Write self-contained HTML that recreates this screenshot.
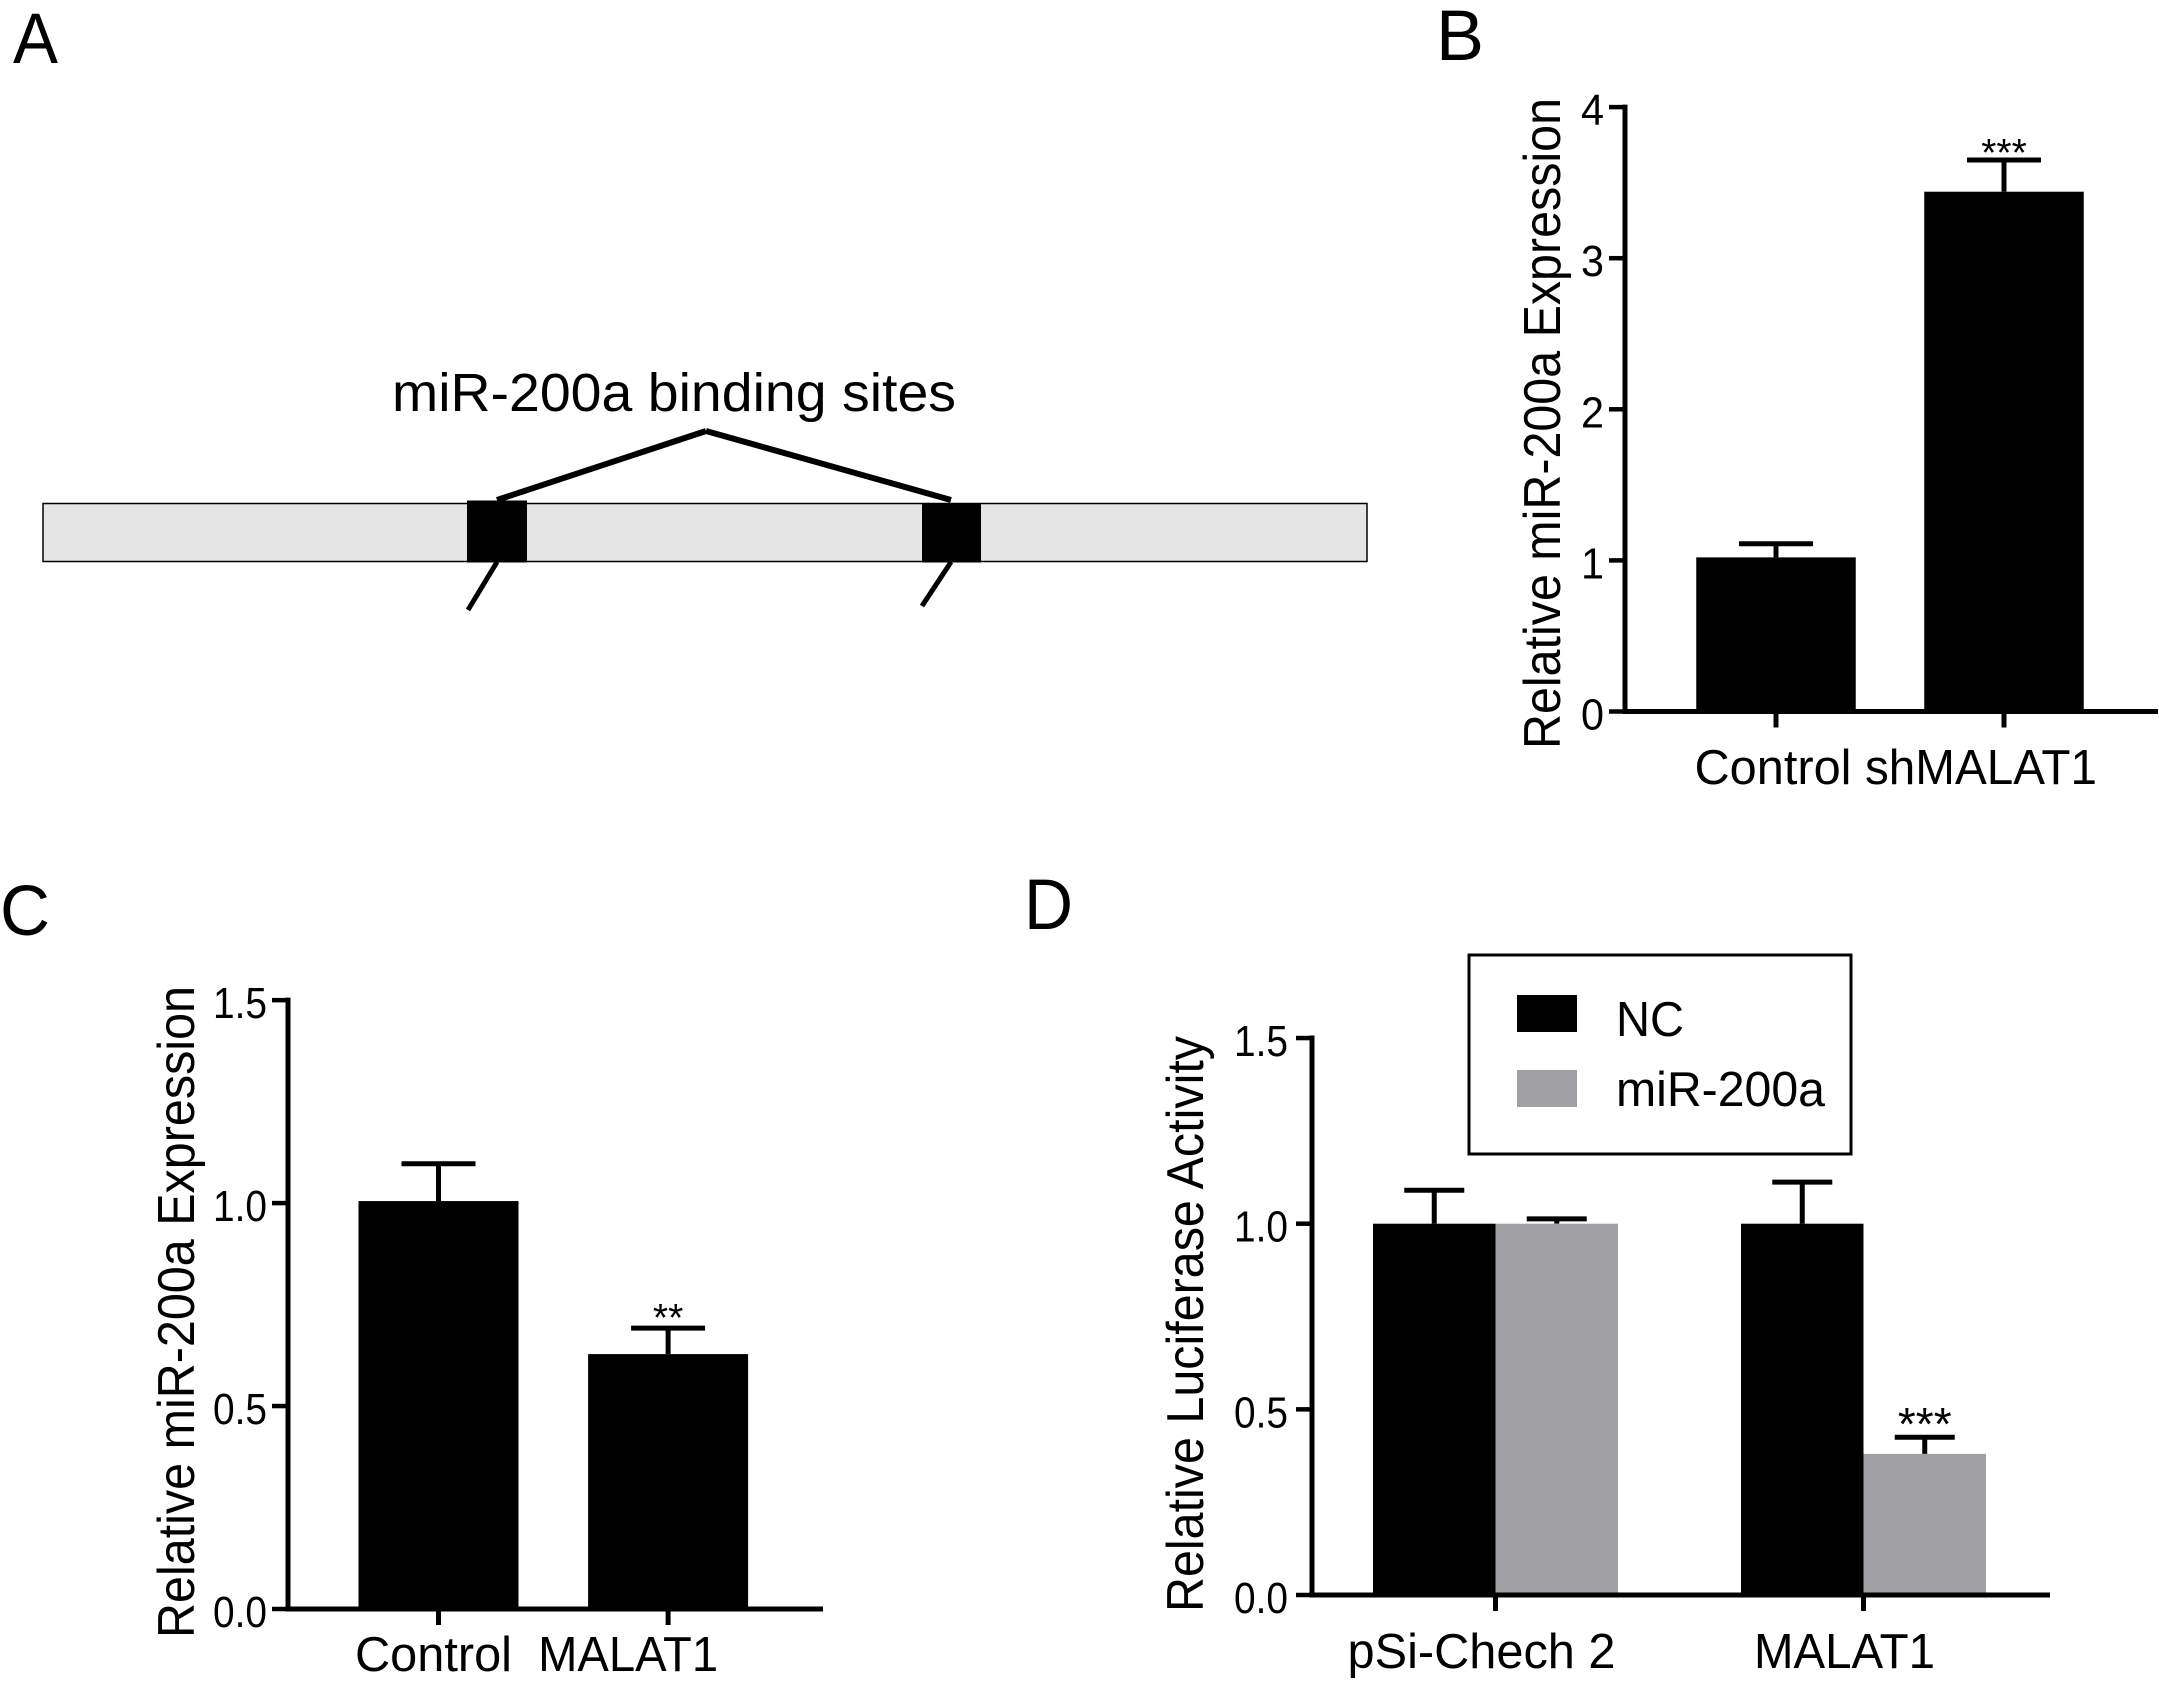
<!DOCTYPE html>
<html lang="en">
<head>
<meta charset="utf-8">
<title>miR-200a and MALAT1 figure</title>
<style>
html,body{margin:0;padding:0;background:#fff;}
svg{display:block;}
text{font-family:"Liberation Sans",Arial,sans-serif;fill:#000;}
</style>
</head>
<body>
<svg id="figure" xmlns="http://www.w3.org/2000/svg" width="2159" height="1682" viewBox="0 0 2159 1682">
  <rect x="0" y="0" width="2159" height="1682" fill="#fff"/>

  <text x="13" y="63" font-size="71" textLength="45" lengthAdjust="spacingAndGlyphs">A</text>
  <text x="1436" y="60" font-size="71" textLength="48" lengthAdjust="spacingAndGlyphs">B</text>
  <text x="0" y="935" font-size="71" textLength="50" lengthAdjust="spacingAndGlyphs">C</text>
  <text x="1024" y="929" font-size="71" textLength="49" lengthAdjust="spacingAndGlyphs">D</text>

  <g>
    <text x="392" y="411" font-size="54" textLength="564" lengthAdjust="spacingAndGlyphs">miR-200a binding sites</text>
    <rect x="43" y="503.5" width="1324" height="58" fill="#e5e5e5" stroke="#000" stroke-width="1.5"/>
    <rect x="467" y="500.5" width="60" height="62" fill="#000"/>
    <rect x="922" y="503.5" width="59" height="59" fill="#000"/>
    <line x1="497" y1="500" x2="706" y2="431" stroke="#000" stroke-width="6"/>
    <line x1="951" y1="500" x2="706" y2="431" stroke="#000" stroke-width="6"/>
    <line x1="497" y1="562" x2="468" y2="610" stroke="#000" stroke-width="5"/>
    <line x1="951" y1="562" x2="922" y2="606" stroke="#000" stroke-width="5"/>
  </g>

  <g id="panel-b"></g>
  <g id="panel-c"></g>
  <g id="panel-d"></g>

  <g>
    <rect x="1469" y="955" width="382" height="199" fill="#fff" stroke="#000" stroke-width="3"/>
    <rect x="1517" y="995" width="60" height="37" fill="#000"/>
    <text x="1616" y="1036" font-size="49" textLength="68" lengthAdjust="spacingAndGlyphs">NC</text>
    <rect x="1517" y="1070" width="60" height="37" fill="#a1a1a5"/>
    <text x="1616" y="1106" font-size="49" textLength="209" lengthAdjust="spacingAndGlyphs">miR-200a</text>
  </g>
</svg>

<script>
// Panel B data
const bCategories = ['Control', 'shMALAT1'];
const bValues = [1.02, 3.44];
const bErrorTops = [1.11, 3.65];
const bTicks = [0, 1, 2, 3, 4];
const bTickLabels = ['0', '1', '2', '3', '4'];
const bStars = ['', '***'];

// Panel C data
const cCategories = ['Control', 'MALAT1'];
const cValues = [1.005, 0.628];
const cErrorTops = [1.097, 0.692];
const cTicks = [0, 0.5, 1, 1.5];
const cTickLabels = ['0.0', '0.5', '1.0', '1.5'];
const cStars = ['', '**'];

// Panel D data
const dCategories = ['pSi-Chech 2', 'MALAT1'];
const dNcValues = [1, 1];
const dNcErrorTops = [1.09, 1.112];
const dMirValues = [1, 0.38];
const dMirErrorTops = [1.013, 0.425];
const dTicks = [0, 0.5, 1, 1.5];
const dTickLabels = ['0.0', '0.5', '1.0', '1.5'];
const dMirStars = ['', '***'];

const SVG_NS = 'http://www.w3.org/2000/svg';

function make(parent, tag, attrs) {
  const node = document.createElementNS(SVG_NS, tag);
  for (const key in attrs) node.setAttribute(key, attrs[key]);
  parent.appendChild(node);
  return node;
}

function drawAxes(root, cfg, ticks, tickLabels, categories) {
  const y = cfg.y;
  const axisTop = y(ticks[ticks.length - 1]);
  const axisBottom = y(ticks[0]);

  const yAxis = make(root, 'line', {x1: cfg.axisX, y1: axisTop - 2.5, x2: cfg.axisX, y2: axisBottom + 2.5, stroke: '#000', 'stroke-width': 5});
  
  

  const xAxis = make(root, 'line', {x1: cfg.axisX, y1: axisBottom, x2: cfg.axisEnd, y2: axisBottom, stroke: '#000', 'stroke-width': 5});
  
  

  ticks.forEach(function (t, i) {
    const tick = make(root, 'line', {x1: cfg.axisX - 16, y1: y(t), x2: cfg.axisX, y2: y(t), stroke: '#000', 'stroke-width': 4.5});
    
    

    const text = tickLabels[i];
    const label = make(root, 'text', {x: cfg.tickLabelX, y: y(t) + 18, 'font-size': 44, 'text-anchor': 'end', textLength: text.length > 1 ? 54 : 23, lengthAdjust: 'spacingAndGlyphs'});
    
    
    label.textContent = text;
  });

  categories.forEach(function (c, i) {
    const cx = cfg.x(i);
    const tick = make(root, 'line', {x1: cx, y1: axisBottom, x2: cx, y2: axisBottom + 16, stroke: '#000', 'stroke-width': 5});
    
    

    const label = make(root, 'text', {x: cx + cfg.labelShift[i], y: cfg.labelY, 'font-size': 49, 'text-anchor': 'middle', textLength: cfg.labelWidth[i], lengthAdjust: 'spacingAndGlyphs'});
    
    
    label.textContent = c;
  });

  const title = make(root, 'text', {x: cfg.titleX, y: cfg.titleBottom, 'font-size': 52, textLength: cfg.titleLength, lengthAdjust: 'spacingAndGlyphs', transform: 'rotate(-90 ' + cfg.titleX + ' ' + cfg.titleBottom + ')'});
  
  
  title.textContent = cfg.title;
}

function drawBar(root, cfg, cx, value, errorTop, width, capWidth, fill, star) {
  const y = cfg.y;
  const base = y(0);

  const stem = make(root, 'line', {x1: cx, y1: y(value), x2: cx, y2: y(errorTop), stroke: '#000', 'stroke-width': 5});
  
  

  const cap = make(root, 'line', {x1: cx - capWidth / 2, y1: y(errorTop), x2: cx + capWidth / 2, y2: y(errorTop), stroke: '#000', 'stroke-width': 5});
  
  

  const bar = make(root, 'rect', {x: cx - width / 2, y: y(value), width: width, height: base - y(value), fill: fill});
  
  

  if (star) {
    const mark = make(root, 'text', {x: cx, y: y(errorTop) + cfg.starDy, 'font-size': cfg.starSize, 'text-anchor': 'middle'});
    
    
    mark.textContent = star;
  }
}

// Panel B
const panelB = {
  y: function (v) { return 711.5 - v * 151.1; },
  x: function (i) { return 1776 + i * 228; },
  axisX: 1625, axisEnd: 2158, tickLabelX: 1604, labelY: 784,
  labelShift: [-3, -23], labelWidth: [157, 232],
  title: 'Relative miR-200a Expression', titleX: 1560, titleBottom: 749, titleLength: 651,
  starDy: 6, starSize: 39
};
const rootB = document.getElementById('panel-b');
bCategories.forEach(function (c, i) {
  drawBar(rootB, panelB, panelB.x(i), bValues[i], bErrorTops[i], 159.5, 74, '#000', bStars[i]);
});
drawAxes(rootB, panelB, bTicks, bTickLabels, bCategories);

// Panel C
const panelC = {
  y: function (v) { return 1609 - v * 405.9; },
  x: function (i) { return 438.5 + i * 229.6; },
  axisX: 288, axisEnd: 823, tickLabelX: 267, labelY: 1671,
  labelShift: [-5, -40], labelWidth: [157, 180],
  title: 'Relative miR-200a Expression', titleX: 194, titleBottom: 1638, titleLength: 652,
  starDy: 3, starSize: 39
};
const rootC = document.getElementById('panel-c');
cCategories.forEach(function (c, i) {
  drawBar(rootC, panelC, panelC.x(i), cValues[i], cErrorTops[i], 160, 74, '#000', cStars[i]);
});
drawAxes(rootC, panelC, cTicks, cTickLabels, cCategories);

// Panel D
const panelD = {
  y: function (v) { return 1595 - v * 371.3; },
  x: function (i) { return 1495.5 + i * 368; },
  axisX: 1312, axisEnd: 2050, tickLabelX: 1288, labelY: 1668,
  labelShift: [-14, -19], labelWidth: [268, 181],
  title: 'Relative Luciferase Activity', titleX: 1203, titleBottom: 1612, titleLength: 576,
  starDy: 3, starSize: 46
};
const rootD = document.getElementById('panel-d');
const dBarWidth = 122.5;
dCategories.forEach(function (c, i) {
  const center = panelD.x(i);
  drawBar(rootD, panelD, center - dBarWidth / 2, dNcValues[i], dNcErrorTops[i], dBarWidth, 60, '#000', '');
  drawBar(rootD, panelD, center + dBarWidth / 2, dMirValues[i], dMirErrorTops[i], dBarWidth, 60, '#a1a1a5', dMirStars[i]);
});
drawAxes(rootD, panelD, dTicks, dTickLabels, dCategories);
</script>
</body>
</html>
